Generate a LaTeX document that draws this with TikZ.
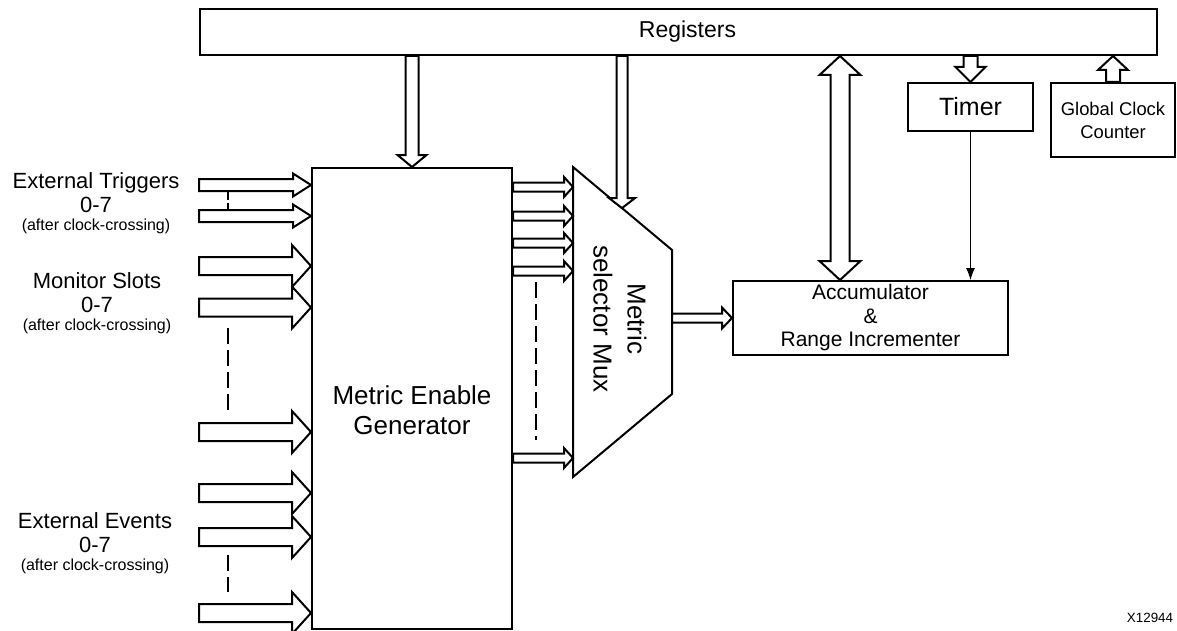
\documentclass[tikz,border=0pt]{standalone}
\usepackage{fontspec}
\setmainfont{Liberation Sans}
\usetikzlibrary{arrows.meta, calc}
\tikzset{
	blk/.style   ={rectangle, draw=black, line width=1pt, inner sep=0pt, align=center},
	bus/.style   ={draw=black, line width=1pt, fill=white, line join=miter},
	sig/.style   ={line width=0.5pt, -{Latex[length=6pt, width=4.5pt]}},
	gap/.style   ={line width=0.6pt, dash pattern=on 8pt off 3pt},
	srclbl/.style={align=center, font=\fontsize{11}{12}\selectfont},
}
% hollow bus arrow: from, to, half shaft, half head, head length
\newcommand{\busarrow}[5]{%
	\path #1 coordinate (ba-a) #2 coordinate (ba-b);
	\path ($(ba-b)!#5!(ba-a)$) coordinate (ba-h);
	\draw[bus] ($(ba-a)!#3!90:(ba-b)$) -- ($(ba-h)!#3!90:(ba-b)$) -- ($(ba-h)!#4!90:(ba-b)$)
		-- (ba-b) -- ($(ba-h)!#4!-90:(ba-b)$) -- ($(ba-h)!#3!-90:(ba-b)$) -- ($(ba-a)!#3!-90:(ba-b)$) -- cycle;
}
% same, with a head at both ends
\newcommand{\busboth}[5]{%
	\path #1 coordinate (ba-a) #2 coordinate (ba-b);
	\path ($(ba-a)!#5!(ba-b)$) coordinate (ba-g) ($(ba-b)!#5!(ba-a)$) coordinate (ba-h);
	\draw[bus] (ba-a) -- ($(ba-g)!#4!90:(ba-b)$) -- ($(ba-g)!#3!90:(ba-b)$) -- ($(ba-h)!#3!90:(ba-b)$) -- ($(ba-h)!#4!90:(ba-b)$)
		-- (ba-b) -- ($(ba-h)!#4!-90:(ba-b)$) -- ($(ba-h)!#3!-90:(ba-b)$) -- ($(ba-g)!#3!-90:(ba-b)$) -- ($(ba-g)!#4!-90:(ba-b)$) -- cycle;
}
\begin{document}
\begin{tikzpicture}[x=0.5pt, y=-0.5pt]
	\useasboundingbox (0,0) rectangle (1177,631);
	% blocks
	\node[blk, minimum width=478.5pt, minimum height=23pt, font=\fontsize{11.5}{13}\selectfont] (reg) at (678.5,32) {\hspace*{9pt}Registers};
	\node[blk, minimum width=100pt, minimum height=230.5pt] (meg) at (412,398.5) {};
	\node[align=center, font=\fontsize{13}{15}\selectfont] (megtxt) at ([yshift=-5.75pt]meg.center) {Metric Enable\\Generator};
	\node[blk, minimum width=62.5pt, minimum height=24pt, font=\fontsize{12.5}{14}\selectfont] (timer) at (970.5,107) {Timer};
	\node[blk, minimum width=62pt, minimum height=37pt, font=\fontsize{9.2}{11.5}\selectfont] (gcc) at (1113,120) {Global Clock\\Counter};
	\node[blk, minimum width=137.5pt, minimum height=37pt, font=\fontsize{10.5}{11.75}\selectfont] (acc) at (870.5,318) {Accumulator\\\&\\Range Incrementer};
	% mux
	\coordinate (mux-tl) at (573,167);
	\coordinate (mux-tr) at (672,250);
	\coordinate (mux-br) at (672,394);
	\coordinate (mux-bl) at (573,477);
	\coordinate (mux-in) at ($(mux-tl)!0.495!(mux-tr)$);
	\draw[line width=1pt, line join=miter] (mux-tl) -- (mux-tr) -- (mux-br) -- (mux-bl) -- cycle;
	\node[rotate=-90, align=center, font=\fontsize{13}{17}\selectfont] (mux) at (620,319) {Metric\\selector Mux};

	% input labels
	\node[srclbl] (trg) at (96,203) {External Triggers\\0-7\\[-3pt]{\fontsize{8}{9}\selectfont (after clock-crossing)}};
	\node[srclbl] (mon) at (97,303) {Monitor Slots\\0-7\\[-3pt]{\fontsize{8}{9}\selectfont (after clock-crossing)}};
	\node[srclbl] (evt) at (95,543) {External Events\\0-7\\[-3pt]{\fontsize{8}{9}\selectfont (after clock-crossing)}};
	\node[font=\fontsize{6.7}{8}\selectfont] (tag) at (1150,618) {X12944};

	% inputs
	\foreach \y/\n/\hs/\hh/\hl in {185/1/3pt/5.75pt/9pt, 216/2/3pt/5.75pt/9pt,
		266/3/4.5pt/10.5pt/9.5pt, 307.5/4/4.5pt/10.5pt/9.5pt, 432/5/4.5pt/10.5pt/9.5pt,
		493/6/4.5pt/10.5pt/9.5pt, 537/7/4.5pt/10.5pt/9.5pt, 613/8/4.5pt/10.5pt/9.5pt}
	{
		\coordinate (src\n) at (199,\y);
		\busarrow{(src\n)}{(meg.west |- src\n)}{\hs}{\hh}{\hl}
	}
	\draw[line width=0.6pt, dash pattern=on 4pt off 1.5pt] (228,192) -- (228,210);
	\draw[gap] (228,328) -- (228,415);
	\draw[gap] (228,555) -- (228,592);

	% enables to mux
	\foreach \y in {187,216,243,271,458}
		\busarrow{(meg.east |- 0,\y)}{(mux-tl |- 0,\y)}{2.25pt}{5pt}{4.5pt};
	\draw[gap] (536,282) -- (536,440);

	% register buses
	\busarrow{(reg.south -| meg.north)}{(meg.north)}{3.25pt}{7.25pt}{6pt}
	\busarrow{(reg.south -| mux-in)}{(mux-in)}{2.75pt}{6.5pt}{5pt}
	\busboth{(reg.south -| 840,0)}{(acc.north -| 840,0)}{4.75pt}{10.25pt}{9.5pt}
	\busarrow{(reg.south -| timer.north)}{(timer.north)}{3.5pt}{7.5pt}{7.5pt}
	\busarrow{(gcc.north)}{(reg.south -| gcc.north)}{3.5pt}{7.5pt}{7pt}
	\busarrow{(mux-tr |- acc.west)}{(acc.west)}{2.25pt}{5.25pt}{5pt}
	\draw[sig] (timer.south) -- (timer.south |- acc.north);
\end{tikzpicture}
\end{document}
